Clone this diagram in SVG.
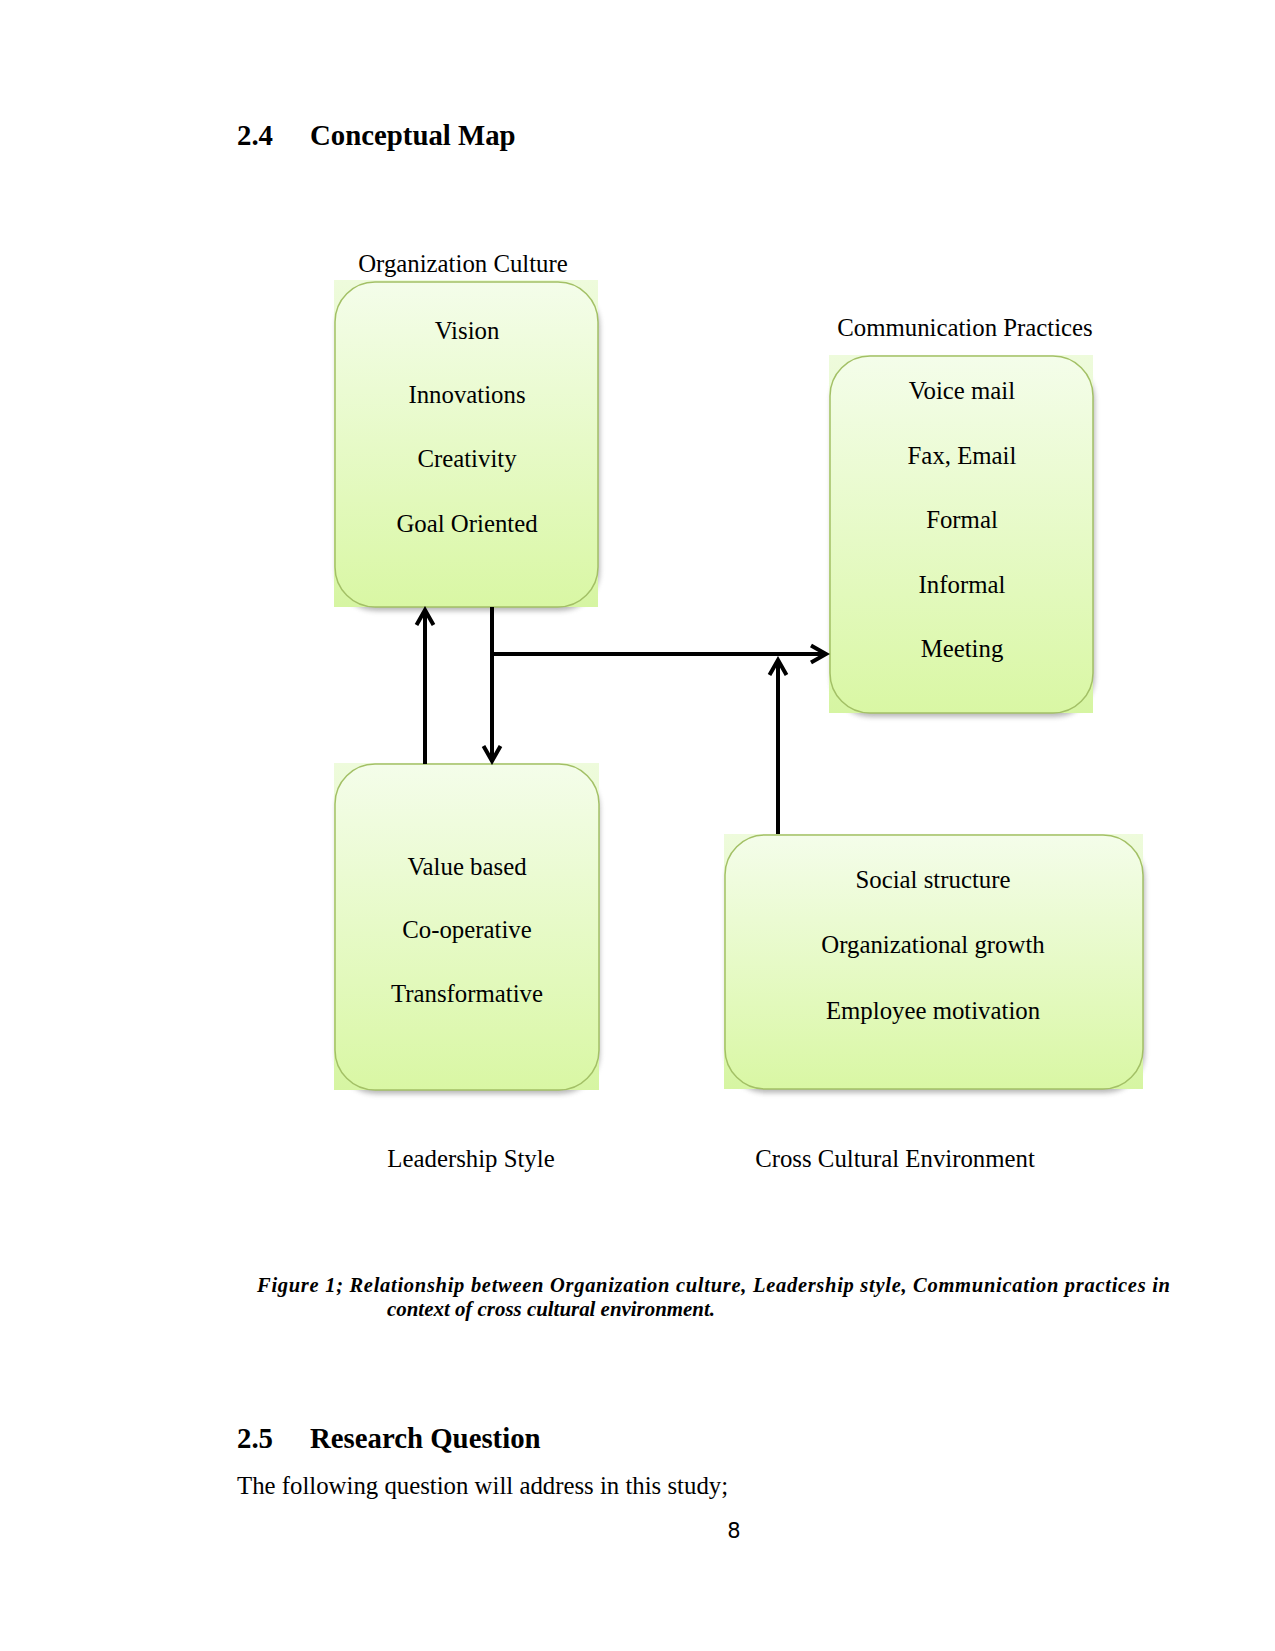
<svg xmlns="http://www.w3.org/2000/svg" width="1275" height="1651" viewBox="0 0 1275 1651">
<style>
  text { font-family: "Liberation Serif", "Times New Roman", serif; fill: #000; }
  .h { font-size: 28.8px; font-weight: bold; }
  .t { font-size: 24.8px; }
  .c { font-size: 24.8px; text-anchor: middle; }
  .cap { font-size: 20.5px; font-weight: bold; font-style: italic; }
  .bg { fill: url(#gbg); }
  .box { fill: url(#gbox); stroke: #a3c066; stroke-width: 1.5; }
  .sh { fill: #808080; opacity: 0.55; filter: url(#blur); }
  .conn { fill: none; stroke: #000; stroke-width: 4; }
</style>
<defs>
  <linearGradient id="gbox" x1="0" y1="0" x2="0" y2="1">
    <stop offset="0" stop-color="#f4fdea"/>
    <stop offset="1" stop-color="#d9f7a4"/>
  </linearGradient>
  <linearGradient id="gbg" x1="0" y1="0" x2="0" y2="1">
    <stop offset="0" stop-color="#eefbdc"/>
    <stop offset="1" stop-color="#d6f5a2"/>
  </linearGradient>
  <filter id="blur" x="-10%" y="-10%" width="120%" height="120%">
    <feGaussianBlur stdDeviation="2.5"/>
  </filter>
  <marker id="arr" markerUnits="userSpaceOnUse" markerWidth="24" markerHeight="24" viewBox="-20 -12 24 24" refX="0" refY="0" orient="auto">
    <path d="M-15,-8.5 L0,0 L-15,8.5" fill="none" stroke="#000" stroke-width="4"/>
  </marker>
</defs>

<rect width="1275" height="1651" fill="#fff"/>

<text class="h" x="237" y="145">2.4</text>
<text class="h" x="310" y="145">Conceptual Map</text>

<g id="org-culture">
  <text class="c" x="463" y="272">Organization Culture</text>
  <rect class="sh" x="336" y="286" width="264" height="325" rx="40"/>
  <rect class="bg" x="334" y="280" width="264" height="327"/>
  <rect class="box" x="335" y="282" width="263" height="325" rx="40"/>
  <text class="c" x="467" y="339">Vision</text>
  <text class="c" x="467" y="403">Innovations</text>
  <text class="c" x="467" y="467">Creativity</text>
  <text class="c" x="467" y="532">Goal Oriented</text>
</g>

<g id="comm-practices">
  <text class="c" x="965" y="336">Communication Practices</text>
  <rect class="sh" x="831" y="360" width="264" height="357" rx="40"/>
  <rect class="bg" x="829" y="355" width="264" height="358"/>
  <rect class="box" x="830" y="356" width="263" height="357" rx="40"/>
  <text class="c" x="962" y="399">Voice mail</text>
  <text class="c" x="962" y="464">Fax, Email</text>
  <text class="c" x="962" y="528">Formal</text>
  <text class="c" x="962" y="593">Informal</text>
  <text class="c" x="962" y="657">Meeting</text>
</g>

<g id="leadership">
  <rect class="sh" x="336" y="768" width="264" height="326" rx="40"/>
  <rect class="bg" x="334" y="763" width="265" height="327"/>
  <rect class="box" x="335" y="764" width="264" height="326" rx="40"/>
  <text class="c" x="467" y="875">Value based</text>
  <text class="c" x="467" y="938">Co-operative</text>
  <text class="c" x="467" y="1002">Transformative</text>
  <text class="c" x="471" y="1167">Leadership Style</text>
</g>

<g id="cross-cultural">
  <rect class="sh" x="726" y="839" width="419" height="254" rx="40"/>
  <rect class="bg" x="724" y="834" width="419" height="255"/>
  <rect class="box" x="725" y="835" width="418" height="254" rx="40"/>
  <text class="c" x="933" y="888">Social structure</text>
  <text class="c" x="933" y="953">Organizational growth</text>
  <text class="c" x="933" y="1019">Employee motivation</text>
  <text class="c" x="895" y="1167">Cross Cultural Environment</text>
</g>

<g id="connectors">
  <path class="conn" d="M425,764 V610" marker-end="url(#arr)"/>
  <path class="conn" d="M492,607 V761" marker-end="url(#arr)"/>
  <path class="conn" d="M490,654 H826" marker-end="url(#arr)"/>
  <path class="conn" d="M778,834 V660" marker-end="url(#arr)"/>
</g>

<text class="cap" x="257" y="1292" textLength="913" lengthAdjust="spacing">Figure 1; Relationship between Organization culture, Leadership style, Communication practices in</text>
<text class="cap" x="387" y="1316" textLength="328" lengthAdjust="spacingAndGlyphs">context of cross cultural environment.</text>

<text class="h" x="237" y="1448">2.5</text>
<text class="h" x="310" y="1448">Research Question</text>
<text class="t" x="237" y="1494">The following question will address in this study;</text>
<text x="734" y="1538" text-anchor="middle" style="font-family: 'DejaVu Sans', sans-serif; font-size: 21px;">8</text>
</svg>
